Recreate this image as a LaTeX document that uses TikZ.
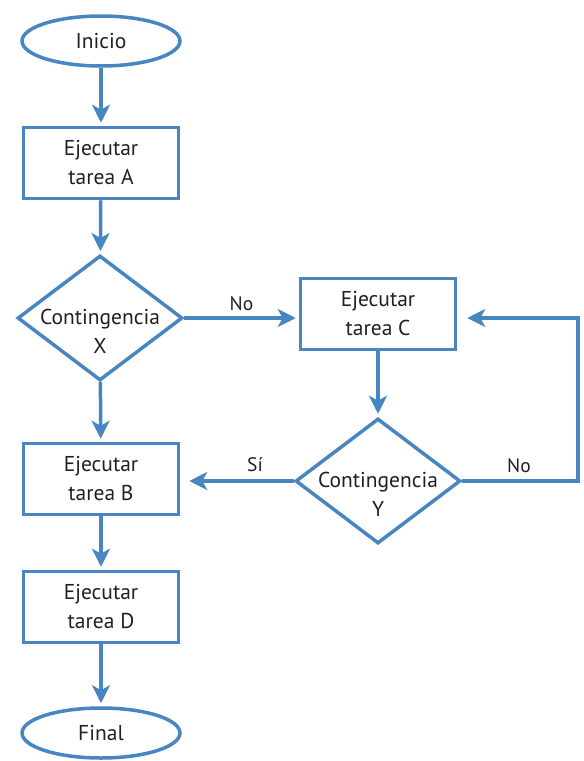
\documentclass[tikz,border=0pt]{standalone}
\usepackage{fontspec}
\setmainfont{PT Sans}
\usetikzlibrary{shapes.geometric,arrows.meta}
\definecolor{flowblue}{RGB}{72,134,193}
\definecolor{ink}{RGB}{35,31,32}
\begin{document}
\begin{tikzpicture}[x=1pt,y=-1pt,
  every node/.style={font=\fontsize{21.5}{29}\selectfont, text=ink, align=center},
  terminal/.style={draw=flowblue, line width=3.5pt, ellipse, minimum width=158pt, minimum height=50pt, inner sep=0pt},
  process/.style={draw=flowblue, line width=3.5pt, rectangle, minimum width=155pt, minimum height=71pt, inner sep=0pt},
  decision/.style={draw=flowblue, line width=3.5pt, diamond, minimum width=165pt, minimum height=125pt, inner sep=0pt},
  flow/.style={draw=flowblue, line width=3.5pt, -{Stealth[length=18pt,width=18pt,inset=5pt]}, shorten >=3pt},
  lbl/.style={font=\fontsize{19.5}{22}\selectfont}
]
\useasboundingbox (0,0) rectangle (584,761);

% shapes
\node[terminal] (inicio) at (101,41) {Inicio};
\node[process] (ta) at (101,163) {Ejecutar\\tarea A};
\node[decision] (cx) at (100,318) {};
\node (cxt) at (100,331) {Contingencia\\X};
\node[process] (tc) at (378,314) {Ejecutar\\tarea C};
\node[decision] (cy) at (378,481) {};
\node (cyt) at (378,494) {Contingencia\\Y};
\node[process] (tb) at (101,479) {Ejecutar\\tarea B};
\node[process] (td) at (101,607) {Ejecutar\\tarea D};
\node[terminal] (final) at (101,733) {Final};

\coordinate (loopa) at (578,481);
\coordinate (loopb) at (578,318);

% connectors
\draw[flow] (inicio) -- (ta);
\draw[flow] (ta) -- (cx);
\draw[flow] (cx.east) -- (cx.east -| tc.west) node[lbl, midway, above=2pt] {No};
\draw[flow] (tc) -- (cy);
\draw[flow, shorten >=10pt] (cy.east) -- (loopa) -- (loopb) -- (loopb -| tc.east);
\node[lbl] (no2) at (519,466) {No};
\draw[flow, shorten >=9pt] (cy.west) -- (cy.west -| tb.east);
\node[lbl] (si) at (255,465) {Sí};
\draw[flow] (cx) -- (tb);
\draw[flow] (tb) -- (td);
\draw[flow] (td) -- (final);
\end{tikzpicture}
\end{document}
